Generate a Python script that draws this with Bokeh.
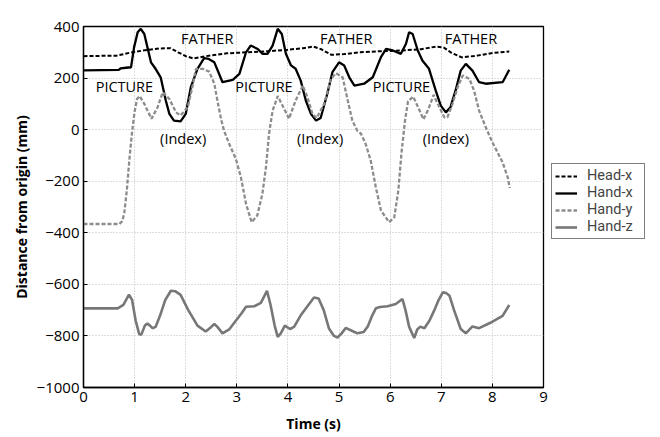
from bokeh.plotting import figure
from bokeh.models import (Range1d, FixedTicker, Legend, LegendItem, ColumnDataSource)
from bokeh.core.properties import value
from bokeh.embed import file_html
from bokeh.resources import INLINE

FONT = "Open Sans"
LEGEND_FONT = "Roboto"

# ---------------- data ----------------
head_x_t = [0, 0.65, 0.9, 1.2, 1.5, 1.7, 1.85, 2.0, 2.15, 2.4, 2.8, 3.2, 3.6, 4.0, 4.3,
            4.5, 4.65, 4.85, 5.1, 5.4, 5.8, 6.2, 6.6, 6.9, 7.05, 7.2, 7.4, 7.7, 8.0, 8.33]
head_x_v = [285, 287, 298, 308, 315, 316, 300, 285, 276, 285, 296, 300, 304, 310, 316,
            322, 312, 290, 293, 300, 304, 307, 312, 322, 318, 298, 280, 287, 297, 303]

hand_x_t = [0, 0.69, 0.73, 0.83, 0.93, 0.99, 1.06, 1.12, 1.19, 1.25, 1.32, 1.41, 1.51,
            1.61, 1.68, 1.77, 1.90, 2.00, 2.10, 2.23, 2.36, 2.45, 2.56, 2.72, 2.92, 3.05,
            3.18, 3.27, 3.41, 3.50, 3.60, 3.70, 3.80, 3.88, 3.96, 4.06, 4.15, 4.25, 4.35,
            4.45, 4.55, 4.64, 4.77, 4.87, 5.00, 5.10, 5.20, 5.30, 5.49, 5.66, 5.82, 5.92,
            6.05, 6.21, 6.31, 6.37, 6.44, 6.54, 6.63, 6.76, 6.89, 6.99, 7.09, 7.18, 7.28,
            7.38, 7.48, 7.61, 7.74, 7.87, 8.20, 8.33]
hand_x_v = [230, 232, 238, 240, 242, 320, 378, 391, 371, 320, 261, 236, 203,
            113, 61, 35, 32, 61, 165, 236, 277, 274, 261, 184, 193, 216,
            300, 326, 313, 294, 294, 326, 391, 371, 294, 249, 236, 190, 113,
            61, 35, 45, 139, 223, 261, 249, 203, 171, 178, 203, 281, 313,
            307, 294, 333, 378, 371, 307, 268, 236, 152, 93, 67, 87, 152,
            229, 255, 229, 184, 178, 184, 232]

hand_y_t = [0, 0.70, 0.76, 0.80, 0.85, 0.90, 0.95, 1.00, 1.05, 1.10, 1.19, 1.33, 1.45,
            1.55, 1.68, 1.81, 1.90, 2.04, 2.13, 2.20, 2.33, 2.46, 2.56, 2.62, 2.69, 2.75,
            2.85, 2.98, 3.08, 3.18, 3.29, 3.40, 3.50, 3.57, 3.63, 3.70, 3.80, 3.91, 4.02,
            4.15, 4.29, 4.38, 4.48, 4.56, 4.71, 4.84, 4.94, 5.07, 5.17, 5.26, 5.36, 5.43,
            5.52, 5.62, 5.72, 5.82, 5.98, 6.08, 6.16, 6.22, 6.29, 6.35, 6.45, 6.54, 6.65,
            6.75, 6.85, 6.93, 7.06, 7.12, 7.22, 7.32, 7.42, 7.55, 7.64, 7.74, 7.87, 8.00,
            8.20, 8.30, 8.34]
hand_y_v = [-366, -366, -355, -320, -230, -110, -10, 70, 120, 130, 100, 42, 87,
            145, 119, 67, 55, 87, 165, 236, 236, 225, 178, 113, 42, -4,
            -55, -113, -185, -288, -359, -333, -249, -146, -16, 74, 130, 87, 42,
            113, 171, 126, 61, 45, 100, 197, 219, 203, 113, 35, -5, -16,
            -55, -120, -224, -314, -359, -340, -236, -94, 35, 110, 128, 90, 40,
            80, 135, 100, 48, 48, 100, 165, 210, 197, 152, 74, 9, -49,
            -127, -185, -226]

hand_z_t = [0, 0.67, 0.78, 0.89, 0.95, 1.02, 1.09, 1.13, 1.20, 1.25, 1.30, 1.35, 1.41,
            1.50, 1.60, 1.71, 1.80, 1.90, 2.05, 2.23, 2.39, 2.50, 2.56, 2.62, 2.72, 2.85,
            2.98, 3.10, 3.18, 3.34, 3.47, 3.59, 3.66, 3.74, 3.80, 3.86, 3.94, 4.04, 4.12,
            4.25, 4.40, 4.51, 4.60, 4.70, 4.80, 4.90, 4.97, 5.05, 5.13, 5.25, 5.36, 5.48,
            5.56, 5.65, 5.72, 5.80, 5.95, 6.11, 6.24, 6.30, 6.37, 6.47, 6.53, 6.59, 6.67,
            6.77, 6.86, 6.95, 7.03, 7.10, 7.16, 7.25, 7.38, 7.48, 7.61, 7.74, 7.95, 8.20,
            8.33]
hand_z_v = [-693, -693, -680, -640, -660, -740, -793, -796, -760, -752, -760, -770, -765,
            -720, -660, -625, -627, -641, -700, -760, -783, -765, -754, -765, -790, -775,
            -741, -710, -687, -685, -672, -625, -680, -760, -804, -790, -760, -773, -765,
            -720, -680, -651, -655, -700, -770, -800, -806, -790, -769, -780, -790, -785,
            -764, -720, -693, -688, -685, -676, -657, -700, -764, -808, -775, -764, -770,
            -740, -702, -660, -631, -634, -644, -700, -773, -790, -763, -770, -750, -722,
            -680]

ann_text = ["FATHER", "FATHER", "FATHER", "PICTURE", "PICTURE", "PICTURE",
            "(Index)", "(Index)", "(Index)"]
ann_t = [2.42, 5.14, 7.58, 0.80, 3.53, 6.22, 1.95, 4.63, 7.09]
ann_v = [355, 355, 355, 168, 168, 168, -33, -33, -33]

series_names = ["Head-x", "Hand-x", "Hand-y", "Hand-z"]
x_ticks = [0, 1, 2, 3, 4, 5, 6, 7, 8, 9]
y_ticks = [-1000, -800, -600, -400, -200, 0, 200, 400]

# ---------------- figure ----------------
p = figure(frame_width=460, frame_height=361, output_backend="svg",
           toolbar_location=None, x_range=Range1d(0, 9), y_range=Range1d(-1000, 400),
           min_border_left=83, min_border_top=26, min_border_bottom=48,
           min_border_right=10)
p.background_fill_color = "white"
p.border_fill_color = "white"
p.outline_line_color = "black"
p.outline_line_width = 1.3

for ax in (p.xaxis[0], p.yaxis[0]):
    ax.axis_line_color = "black"
    ax.axis_line_width = 1.3
    ax.major_tick_in = 4
    ax.major_tick_out = 0
    ax.minor_tick_line_color = None
    ax.major_label_text_font = FONT
    ax.major_label_text_font_size = "15px"
    ax.major_label_text_color = "black"
    ax.axis_label_text_font = FONT
    ax.axis_label_text_font_size = "14px"
    ax.axis_label_text_font_style = "bold"
    ax.axis_label_text_color = "black"

p.xaxis.ticker = FixedTicker(ticks=x_ticks)
p.yaxis.ticker = FixedTicker(ticks=y_ticks)
p.yaxis.major_label_overrides = {t: str(t).replace("-", "\u2212") for t in y_ticks}
p.xaxis.axis_label = "Time (s)"
p.yaxis.axis_label = "Distance from origin (mm)"
p.xaxis.major_label_standoff = 4
p.xaxis.axis_label_standoff = 9
p.yaxis.major_label_standoff = 4
p.yaxis.axis_label_standoff = 3

for g in (p.xgrid[0], p.ygrid[0]):
    g.grid_line_color = "#bdbdbd"
    g.grid_line_dash = "1 2"
    g.grid_line_width = 1
p.xgrid.ticker = FixedTicker(ticks=x_ticks)
p.ygrid.ticker = FixedTicker(ticks=y_ticks)

r_head = p.line(head_x_t, head_x_v, line_color="black", line_width=2, line_dash="4 2")
r_hx = p.line(hand_x_t, hand_x_v, line_color="black", line_width=2.3)
r_hy = p.line(hand_y_t, hand_y_v, line_color="#8c8c8c", line_width=2.3, line_dash="4 2")
r_hz = p.line(hand_z_t, hand_z_v, line_color="#777777", line_width=2.6)

src = ColumnDataSource(dict(x=ann_t, y=ann_v, text=ann_text))
p.text(x="x", y="y", text="text", source=src, text_font=value(FONT),
       text_font_size="14.5px", text_align="center", text_baseline="middle",
       text_color="black")

renderers = [r_head, r_hx, r_hy, r_hz]
legend = Legend(items=[LegendItem(label=n, renderers=[r]) for n, r in zip(series_names, renderers)],
                location=(8, 148), border_line_color="black", border_line_width=1.2,
                label_text_font=LEGEND_FONT, label_text_font_size="14.5px",
                label_height=12, glyph_height=12, glyph_width=22, spacing=0,
                label_width=54, padding=3, margin=10, label_standoff=10,
                background_fill_alpha=1)
p.add_layout(legend, "right")

open("out.html", "w").write(file_html(p, INLINE))
